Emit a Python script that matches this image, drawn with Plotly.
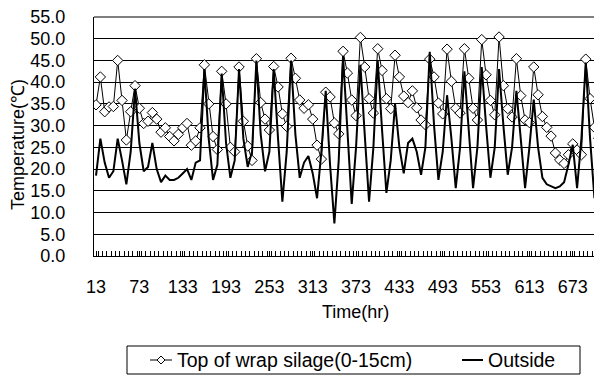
import plotly.graph_objects as go

# Time (hr): one reading every 6 hours starting at 13 hr
time_hr = list(range(13, 13 + 6 * 118, 6))

silage_top = [
    34.8, 41.2, 33.2, 34.3, 34.4, 45.0, 35.8, 26.7, 33.2, 39.2,
    34.0, 30.5, 31.0, 33.0, 31.5, 28.5, 29.5, 27.5, 26.5, 28.0,
    29.5, 30.5, 25.5, 26.5, 29.5, 44.0, 35.0, 27.5, 24.5, 42.5,
    35.0, 25.0, 24.0, 43.5, 31.0, 25.3, 22.0, 45.4, 35.3, 31.5,
    29.0, 43.6, 38.9, 32.7, 29.8, 45.5, 40.9, 35.9, 34.0, 34.8,
    31.5, 25.5, 22.3, 37.7, 36.6, 30.6, 28.1, 47.1, 42.1, 35.9,
    32.3, 50.3, 43.5, 36.2, 32.9, 47.7, 42.7, 36.2, 33.9, 46.2,
    41.2, 36.8, 35.3, 38.0, 34.1, 31.3, 30.2, 45.3, 41.2, 35.2,
    32.7, 47.6, 40.2, 34.0, 32.9, 47.7, 40.9, 34.0, 31.3, 49.8,
    41.7, 35.8, 32.5, 50.4, 39.2, 33.9, 32.0, 45.4, 36.9, 31.3,
    30.7, 43.5, 37.1, 32.1, 29.6, 27.6, 23.7, 22.1, 21.3, 23.3,
    25.8, 24.4, 23.3, 45.3, 36.2, 29.6, 27.1, 44.0,
]

outside = [
    18.5, 27.0, 21.5, 18.0, 19.5, 27.0, 22.0, 16.5, 24.0, 38.5,
    26.0, 19.5, 20.5, 26.0, 20.0, 17.0, 18.5, 17.5, 17.5, 18.0,
    19.0, 20.0, 17.5, 21.5, 22.0, 43.0, 27.0, 17.5, 21.0, 42.0,
    26.0, 18.0, 22.0, 43.0, 27.0, 20.5, 24.0, 45.0, 28.0, 19.5,
    24.0, 43.0, 27.0, 12.5, 24.0, 45.0, 28.0, 18.0, 21.5, 23.0,
    19.0, 13.3, 24.0, 38.0, 21.0, 7.5, 22.0, 46.0, 29.0, 12.0,
    25.0, 44.0, 28.0, 12.5, 25.0, 45.0, 29.0, 14.5, 22.0, 35.0,
    25.0, 19.0, 26.0, 27.0, 24.0, 18.7, 25.0, 47.0, 30.0, 17.5,
    24.0, 37.0, 27.0, 15.6, 25.0, 42.5, 29.0, 15.6, 25.0, 43.5,
    30.0, 18.0, 25.0, 43.0, 30.0, 18.7, 25.0, 38.0, 27.0, 15.6,
    25.0, 36.0, 25.0, 18.0, 16.5, 16.0, 15.6, 16.0, 17.0, 21.0,
    25.6, 15.6, 27.0, 44.5, 27.0, 13.3, 22.0, 41.0,
]

x_tick_vals = [13, 73, 133, 193, 253, 313, 373, 433, 493, 553, 613, 673]
x_tick_text = [str(v) for v in x_tick_vals]
series_names = ["Top of wrap silage(0-15cm)", "Outside"]

FONT = "Liberation Sans, Arial, sans-serif"

# The page body has an 8px default margin, so the figure is sized to fill
# the remaining 594x368 of the 602x376 window.
OFF = 8
FIG_W, FIG_H = 602 - OFF, 376 - OFF
L, T, W, H = 94 - OFF, 17 - OFF, 508, 239


def px(xv):
    """window pixel x -> paper x"""
    return (xv - OFF - L) / W


def py(yv):
    """window pixel y -> paper y"""
    return (T + H - (yv - OFF)) / H


fig = go.Figure()
fig.add_trace(go.Scatter(
    x=time_hr, y=silage_top, name=series_names[0], mode="lines+markers",
    line=dict(color="black", width=1),
    marker=dict(symbol="diamond", size=8, color="white",
                line=dict(color="black", width=1)),
))
fig.add_trace(go.Scatter(
    x=time_hr, y=outside, name=series_names[1], mode="lines",
    line=dict(color="black", width=2),
))

# legend (drawn as shapes + text to match the boxed single-row legend)
shapes = [
    dict(type="line", xref="paper", yref="paper", x0=0, x1=1, y0=1, y1=1,
         line=dict(color="black", width=1)),
    dict(type="rect", xref="paper", yref="paper",
         x0=px(127), x1=px(580), y0=py(374), y1=py(346),
         line=dict(color="black", width=1), fillcolor="white"),
    dict(type="line", xref="paper", yref="paper",
         x0=px(150), x1=px(172), y0=py(360), y1=py(360),
         line=dict(color="black", width=1)),
    dict(type="path", xref="paper", yref="paper",
         path=(f"M {px(161)},{py(356)} L {px(165)},{py(360)} "
               f"L {px(161)},{py(364)} L {px(157)},{py(360)} Z"),
         line=dict(color="black", width=1), fillcolor="white"),
    dict(type="line", xref="paper", yref="paper",
         x0=px(462), x1=px(483), y0=py(360), y1=py(360),
         line=dict(color="black", width=2)),
]

annotations = [
    dict(text="Time(hr)", xref="paper", yref="paper", x=px(355), y=py(312),
         xanchor="center", yanchor="middle", showarrow=False,
         font=dict(family=FONT, size=18, color="black")),
    dict(text="Temperature(℃)", xref="paper", yref="paper", x=px(18), y=py(145),
         xanchor="center", yanchor="middle", showarrow=False, textangle=-90,
         font=dict(family=FONT, size=18, color="black")),
    dict(text=series_names[0], xref="paper", yref="paper", x=px(175), y=py(360),
         xanchor="left", yanchor="middle", showarrow=False,
         font=dict(family=FONT, size=19.5, color="black")),
    dict(text=series_names[1], xref="paper", yref="paper", x=px(486), y=py(360),
         xanchor="left", yanchor="middle", showarrow=False,
         font=dict(family=FONT, size=19.5, color="black")),
]

fig.update_layout(
    width=FIG_W, height=FIG_H,
    margin=dict(l=L, r=FIG_W - L - W, t=T, b=FIG_H - T - H),
    paper_bgcolor="white", plot_bgcolor="white",
    font=dict(family=FONT, size=18, color="black"),
    showlegend=False,
    xaxis=dict(
        range=[10.2, 713.5],
        tickmode="array", tickvals=x_tick_vals, ticktext=x_tick_text,
        ticks="inside", ticklen=5, tickcolor="black",
        minor=dict(tick0=10, dtick=6, ticks="inside", ticklen=5, tickcolor="black", showgrid=False),
        showline=True, linecolor="black", linewidth=1, mirror=False,
        showgrid=False, zeroline=False,
        ticklabelstandoff=14, ticklabeloverflow="allow",
        tickfont=dict(family=FONT, size=18, color="black"),
    ),
    yaxis=dict(
        range=[0, 55], tick0=0, dtick=5, tickformat=".1f",
        showgrid=True, gridcolor="black", gridwidth=1,
        showline=True, linecolor="black", linewidth=1,
        zeroline=False, ticks="", ticklabelstandoff=24,
        ticklabeloverflow="allow",
        tickfont=dict(family=FONT, size=18, color="black"),
    ),
    shapes=shapes,
    annotations=annotations,
)

fig.write_html("out.html")
